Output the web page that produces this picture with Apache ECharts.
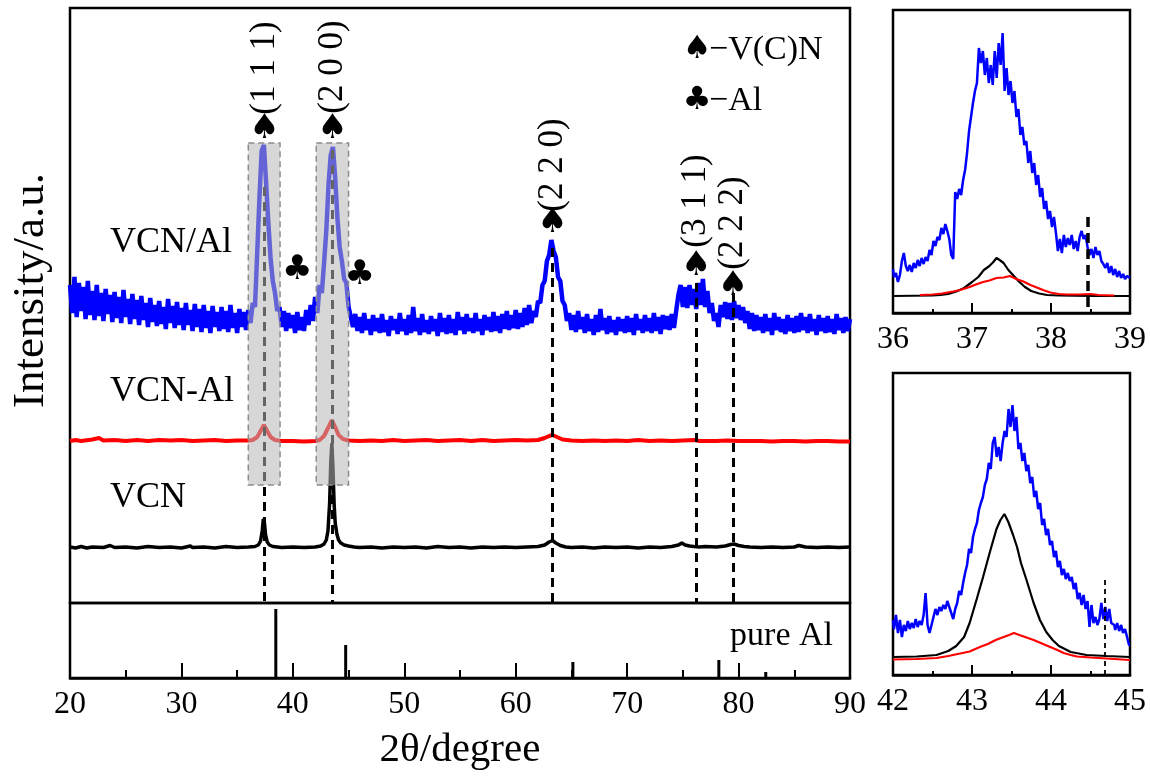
<!DOCTYPE html>
<html>
<head>
<meta charset="utf-8">
<script src="https://cdn.jsdelivr.net/npm/echarts@6/dist/echarts.min.js"></script>
<style>
html,body{margin:0;padding:0;background:#fff;}
#chart{width:1150px;height:778px;}
</style>
</head>
<body>
<div id="chart"></div>
<script>
// ---------- XRD data (intensity in arbitrary units) ----------
const twoThetaRange = [20, 90];

// VCN/Al composite, sampled on a regular 2θ grid
const vcnAlStart = 20, vcnAlStep = 0.2;
const vcnAlIntensity = [
  318,290,326,286,320,292,316,284,322,288,
  312,283,318,287,310,282,314,289,308,281,
  311,285,306,280,313,286,304,279,309,284,
  303,278,307,283,300,276,305,281,298,277,
  302,279,296,274,304,280,297,275,301,278,
  295,273,300,278,293,272,299,276,294,271,
  298,275,292,270,297,276,291,272,296,274,
  292,271,298,275,290,270,294,276,291,273,
  293,280,300,296,350,405,452,458,420,380,
  345,322,310,292,296,276,292,272,290,275,
  288,270,291,273,286,272,293,278,298,282,
  306,290,318,310,340,372,418,448,456,425,
  385,356,342,324,320,296,286,276,289,272,
  286,270,290,273,284,268,288,272,285,270,
  289,271,283,267,287,273,284,269,290,272,
  284,268,288,270,296,272,285,268,289,271,
  283,269,287,272,284,267,290,271,285,269,
  288,270,284,268,291,273,286,269,289,272,
  285,270,290,272,284,268,288,273,286,271,
  291,272,287,270,289,274,292,273,288,275,
  293,274,290,276,295,278,298,280,292,286,
  302,300,318,322,342,348,363,352,346,326,
  322,302,298,282,290,273,288,271,292,274,
  286,270,289,272,284,268,288,271,294,273,
  285,269,287,271,283,268,286,272,284,270,
  287,271,285,268,289,273,284,270,288,272,
  285,270,290,272,286,269,288,274,287,273,
  289,275,292,308,318,296,316,295,318,298,
  314,294,320,298,324,296,312,290,300,282,
  290,276,298,286,301,284,300,283,302,285,
  298,283,296,280,292,274,290,272,288,273,
  286,270,289,272,285,268,290,273,286,271,
  284,269,288,272,285,270,287,271,290,273,
  286,270,289,272,284,268,288,272,285,270,
  287,271,284,269,289,273,285,270,286,272,
  284
];

// VCN-Al mixture, [2θ, intensity]
const vcnMixPoints = [
  [20,162],[20.5,163],[21,162],[22,163.5],[22.6,165],[23,162.5],[24,163],[25,162],[26,163],[27,162],
  [28,163],[29,162.5],[30,163],[31,162],[32,162.5],[33,163],[34,162],[35,162.5],[36,162.5],[36.4,163],
  [36.8,166],[37.1,172],[37.4,178],[37.7,172],[38,166],[38.4,163],[39,162],[40,162],[41,161.5],[42,162],
  [42.4,163],[42.8,167],[43.2,176],[43.5,183],[43.8,176],[44.1,168],[44.5,164],[45,162.5],[46,162],[47,162.5],
  [48,162],[49,163],[50,162],[51,162.5],[52,163],[53,162],[54,162.5],[55,163],[56,162],[57,163],
  [58,162],[59,162.5],[60,163],[61,162.5],[62,163],[62.6,165],[63,167],[63.3,168],[63.7,166],[64.2,163.5],
  [65,162.5],[66,162],[67,162.5],[68,162],[69,162.5],[70,162],[71,163],[72,162],[73,162.5],[74,162],
  [75,162.5],[76,163],[76.5,162],[77,162],[78,162],[79,162.5],[80,162],[81,162],[82,162],[83,161.5],
  [84,162],[85,162],[86,161.5],[87,162],[88,162],[89,161.5],[90,161.5]
];

// VCN powder, [2θ, intensity]
const vcnPoints = [
  [20,56],[20.5,55],[21,56.5],[21.5,55],[22,56],[23,55.5],[23.6,57.5],[24,55.5],[25,56],[26,55],
  [27,56.5],[28,55.5],[29,56],[30,55],[30.8,57],[31,55.5],[32,56],[33,55],[34,56.5],[35,55.5],
  [36,56],[36.6,56.5],[36.9,58],[37.1,62],[37.25,72],[37.35,84],[37.45,80],[37.55,68],[37.7,61],[37.9,58],
  [38.2,56.5],[38.6,56],[39,55.5],[40,56],[41,55.5],[42,56],[42.5,57],[42.8,59],[43.0,63],[43.15,72],
  [43.3,100],[43.4,140],[43.5,160],[43.6,135],[43.7,100],[43.8,80],[43.95,69],[44.1,63],[44.3,60],[44.6,58],
  [45,57],[45.5,56],[46,55.5],[47,56],[48,55],[49,56],[50,55.5],[51,56],[52,55],[53,56.5],
  [54,55.5],[55,56],[56,55],[57,56],[58,55.5],[59,56],[60,55.5],[61,56],[62,56.5],[62.6,58],
  [63,61],[63.3,62.5],[63.6,60],[64,57.5],[64.5,56],[65,55.5],[66,56],[67,55],[68,56],[69,55.5],
  [70,56],[71,55],[72,56],[73,55.5],[74,56.5],[74.6,58],[74.9,60],[75.2,58],[75.6,57],[76,56.5],
  [76.5,56],[77,56.5],[78,56],[78.8,57],[79.3,58.5],[79.6,59],[80,57.5],[80.5,56.5],[81,56],[82,55.5],
  [83,56],[84,55.5],[85,56],[85.4,57.5],[86,56],[87,55.5],[88,56],[89,55.5],[90,56]
];

// pure Al reference pattern
const alStick2Theta = [38.47, 44.74, 65.13, 78.23, 82.44];
const alStickHeight = [69, 33, 16, 18, 6];

// V(C)N reflections
const peakHkl = ['(1 1 1)', '(2 0 0)', '(2 2 0)', '(3 1 1)', '(2 2 2)'];
const peak2Theta = [37.45, 43.55, 63.3, 76.2, 79.5];
const spadeLevel = [474, 474, 380, 337, 317];
const hklLevel = [535, 536, 438, 402, 380];
const guideTop = [416, 453, 355, 320, 310];

// Al reflections in the composite
const alMark2Theta = [40.4, 46.0];
const alMarkLevel = [333, 328];

// shaded windows shown enlarged on the right
const zoomWindows = [[36.0, 38.85], [42.1, 45.0]];
const zoomWindowLevel = [118, 460];

// ---------- (1 1 1) window, 36–39° ----------
const win1Range = [36, 39];
const win1Start = 36, win1Step = 0.025;
const win1VcnAl = [
  44,36,40,31,38,52,60,47,42,48,
  41,50,45,53,47,55,49,56,52,63,
  58,72,67,76,73,85,79,89,82,74,
  58,54,121,114,124,118,133,143,160,182,
  196,210,222,230,265,250,262,238,255,230,
  248,228,262,235,270,248,280,222,245,218,
  232,210,222,196,204,178,186,168,172,150,
  162,140,150,128,138,116,125,104,112,94,
  102,86,96,80,62,74,60,78,66,75,
  68,78,64,72,62,76,82,74,78,66,
  58,64,55,66,58,62,52,49,45,50,
  40,47,38,44,36,42,35,39,34,37,
  35
];
const win1Vcn = [
  [36,17],[36.5,17.5],[36.6,18],[36.7,19],[36.8,21.5],[36.9,25],[37.0,31],[37.08,36],[37.15,43],[37.22,47],
  [37.27,51],[37.31,55],[37.35,53],[37.4,50],[37.46,43],[37.53,37],[37.6,31],[37.67,26],[37.75,22],[37.85,19.5],
  [37.95,18],[38.1,17.5],[38.5,17],[39,17]
];
const win1VcnMix = [
  [36.34,18],[36.5,18.5],[36.62,19.5],[36.76,21.5],[36.85,23],[36.97,26],[37.05,28.5],[37.14,31],[37.22,32.5],[37.31,35],
  [37.4,35.5],[37.48,37],[37.56,34],[37.65,31.5],[37.74,28],[37.82,25.5],[37.9,23],[37.99,20.5],[38.1,19],[38.2,18.5],
  [38.35,18.5],[38.5,19],[38.6,18],[38.8,17.5]
];
const win1AlLine = [38.47, 0, 96];

// ---------- (2 0 0) window, 42–45° ----------
const win2Range = [42, 45];
const win2Start = 42, win2Step = 0.025;
const win2VcnAl = [
  55,46,60,42,55,38,50,44,54,46,
  52,47,56,48,54,50,60,82,50,42,
  50,58,66,60,68,64,70,66,74,68,
  62,56,66,72,84,80,92,102,110,126,
  122,138,146,152,165,172,178,190,196,212,
  206,232,238,218,228,214,232,244,238,266,
  248,270,244,258,226,232,214,222,204,210,
  192,198,178,184,166,172,150,156,140,146,
  130,134,118,124,108,114,100,106,96,102,
  94,98,86,92,76,82,70,80,66,74,
  48,70,52,58,50,56,72,56,68,54,
  66,52,50,45,52,44,50,42,46,38,
  30
];
const win2Vcn = [
  [42,18],[42.3,18.5],[42.55,20],[42.7,24],[42.8,29],[42.9,38],[42.97,52],[43.06,76],[43.14,98],[43.23,124],
  [43.31,146],[43.36,155],[43.41,161],[43.46,153],[43.52,140],[43.57,128],[43.62,112],[43.69,95],[43.78,72],[43.86,55],
  [43.94,43],[44.02,35],[44.1,29],[44.25,23],[44.45,20],[44.7,19],[45,18]
];
const win2VcnMix = [
  [42,15.5],[42.3,16],[42.55,17],[42.7,19],[42.85,21.5],[42.97,23.5],[43.1,28],[43.2,31],[43.3,35],[43.4,38],
  [43.47,40],[43.53,42],[43.6,40],[43.69,37.5],[43.78,35],[43.87,32],[43.99,28],[44.08,25],[44.16,22],[44.25,20],
  [44.33,18.5],[44.5,17.5],[44.7,16.5],[45,15]
];
const win2AlLine = [44.68, 0, 95];

// ---------- styling ----------
const SERIF = "'Liberation Serif','Times New Roman',Times,serif";
const SYM = "'DejaVu Sans',sans-serif";
const BLUE = '#0000ff', RED = '#ff0000', BLACK = '#000000';

const onGrid = (start, step, values) => values.map((v, i) => [+(start + i * step).toFixed(3), v]);

function frameGrid(left, top, width, height) {
  return { left, top, width, height, show: true, borderColor: BLACK, borderWidth: 2.5,
           backgroundColor: 'transparent', containLabel: false, outerBoundsMode: 'none' };
}

function tickedAxis(gridIndex, range, fontSize, majorLen, minorLen, extra) {
  return Object.assign({
    gridIndex, type: 'value', min: range[0], max: range[1], interval: 10,
    axisLine: { show: true, lineStyle: { color: BLACK, width: 2.5 } },
    axisTick: { show: true, inside: true, length: majorLen, lineStyle: { color: BLACK, width: 2 } },
    minorTick: { show: true, splitNumber: 2, length: minorLen, lineStyle: { color: BLACK, width: 2 } },
    axisLabel: { color: BLACK, fontFamily: SERIF, fontSize, margin: 11 },
    splitLine: { show: false }, minorSplitLine: { show: false }
  }, extra || {});
}

const hiddenY = (gridIndex, max, extra) => Object.assign({
  gridIndex, type: 'value', min: 0, max,
  axisLine: { show: false }, axisTick: { show: false }, axisLabel: { show: false },
  splitLine: { show: false }
}, extra || {});

const lineSeries = (name, data, color, width, xi, extra) => Object.assign({
  name, type: 'line', data, xAxisIndex: xi, yAxisIndex: xi,
  symbol: 'none', sampling: null, animation: false, silent: true,
  lineStyle: { color, width }, z: 2
}, extra || {});

const annotationPoints = [];
peak2Theta.forEach((x, i) => {
  annotationPoints.push({ coord: [x, spadeLevel[i]],
    label: { formatter: '\u2660', fontFamily: SYM, fontSize: 34, color: BLACK } });
  annotationPoints.push({ coord: [x, hklLevel[i]],
    label: { formatter: peakHkl[i], rotate: 90, fontFamily: SERIF, fontSize: 35, color: BLACK } });
});
alMark2Theta.forEach((x, i) => {
  annotationPoints.push({ coord: [x, alMarkLevel[i]],
    label: { formatter: '\u2663', fontFamily: SYM, fontSize: 34, color: BLACK } });
});

const option = {
  backgroundColor: '#ffffff',
  animation: false,
  grid: [
    frameGrid(70, 8, 780, 595),
    frameGrid(70, 603, 780, 75),
    frameGrid(893, 10, 237, 303),
    frameGrid(893, 373, 237, 302)
  ],
  xAxis: [
    { gridIndex: 0, type: 'value', min: twoThetaRange[0], max: twoThetaRange[1], show: false },
    tickedAxis(1, twoThetaRange, 32, 15, 8, {
      name: '2\u03b8/degree', nameLocation: 'middle', nameGap: 52,
      nameTextStyle: { fontFamily: SERIF, fontSize: 41, color: BLACK }
    }),
    tickedAxis(2, win1Range, 32, 10, 4, { interval: 1 }),
    tickedAxis(3, win2Range, 32, 10, 4, { interval: 1 })
  ],
  yAxis: [
    hiddenY(0, 595, {
      name: 'Intensity/a.u.', nameLocation: 'middle', nameGap: 16, nameRotate: 90,
      nameTextStyle: { fontFamily: SERIF, fontSize: 45, color: BLACK, padding: [0, 0, 0, 30] }
    }),
    hiddenY(1, 75),
    hiddenY(2, 303),
    hiddenY(3, 302)
  ],
  series: [
    lineSeries('VCN/Al', onGrid(vcnAlStart, vcnAlStep, vcnAlIntensity), BLUE, 4.5, 0),
    lineSeries('VCN-Al', vcnMixPoints, RED, 4, 0),
    lineSeries('VCN', vcnPoints, BLACK, 3.5, 0),
    {
      name: 'guides', type: 'line', data: [], xAxisIndex: 0, yAxisIndex: 0, silent: true,
      markLine: {
        silent: true, symbol: ['none', 'none'], animation: false, z: 5,
        label: { show: false },
        lineStyle: { color: BLACK, width: 3, type: [9, 6] },
        data: peak2Theta.map((x, i) => [{ coord: [x, guideTop[i]] }, { coord: [x, 0] }])
      }
    },
    {
      name: 'windows', type: 'line', data: [], xAxisIndex: 0, yAxisIndex: 0, silent: true,
      markArea: {
        silent: true, animation: false, z: 10,
        itemStyle: { color: 'rgba(182,182,182,0.55)', borderColor: '#8c8c8c', borderWidth: 1.5, borderType: [6, 4] },
        data: zoomWindows.map(w => [{ coord: [w[0], zoomWindowLevel[1]] }, { coord: [w[1], zoomWindowLevel[0]] }])
      }
    },
    {
      name: 'reflections', type: 'line', data: [], xAxisIndex: 0, yAxisIndex: 0, silent: true,
      markPoint: {
        silent: true, animation: false, z: 12,
        symbol: 'rect', symbolSize: 1, itemStyle: { color: 'rgba(0,0,0,0)' },
        label: { show: true, position: 'inside' },
        data: annotationPoints
      }
    },
    {
      name: 'pure Al', type: 'bar', xAxisIndex: 1, yAxisIndex: 1, silent: true, animation: false,
      barWidth: 3, itemStyle: { color: BLACK },
      data: alStick2Theta.map((x, i) => [x, alStickHeight[i]])
    },
    lineSeries('win1 VCN/Al', onGrid(win1Start, win1Step, win1VcnAl), BLUE, 2.5, 2, { step: 'middle' }),
    lineSeries('win1 VCN', win1Vcn, BLACK, 2.2, 2),
    lineSeries('win1 VCN-Al', win1VcnMix, RED, 2.2, 2),
    {
      name: 'win1 Al', type: 'line', data: [], xAxisIndex: 2, yAxisIndex: 2, silent: true,
      markLine: {
        silent: true, symbol: ['none', 'none'], animation: false, label: { show: false },
        lineStyle: { color: BLACK, width: 3.5, type: [10, 6] },
        data: [[{ coord: [win1AlLine[0], win1AlLine[2]] }, { coord: [win1AlLine[0], win1AlLine[1]] }]]
      }
    },
    lineSeries('win2 VCN/Al', onGrid(win2Start, win2Step, win2VcnAl), BLUE, 2.5, 3, { step: 'middle' }),
    lineSeries('win2 VCN', win2Vcn, BLACK, 2.2, 3),
    lineSeries('win2 VCN-Al', win2VcnMix, RED, 2.2, 3),
    {
      name: 'win2 Al', type: 'line', data: [], xAxisIndex: 3, yAxisIndex: 3, silent: true,
      markLine: {
        silent: true, symbol: ['none', 'none'], animation: false, label: { show: false },
        lineStyle: { color: BLACK, width: 1.8, type: [5, 4] },
        data: [[{ coord: [win2AlLine[0], win2AlLine[2]] }, { coord: [win2AlLine[0], win2AlLine[1]] }]]
      }
    }
  ],
  graphic: [
    { type: 'text', x: 110, y: 243, style: { text: 'VCN/Al', font: '36px ' + SERIF, fill: BLACK, align: 'left', verticalAlign: 'middle' } },
    { type: 'text', x: 110, y: 392, style: { text: 'VCN-Al', font: '36px ' + SERIF, fill: BLACK, align: 'left', verticalAlign: 'middle' } },
    { type: 'text', x: 110, y: 498, style: { text: 'VCN', font: '36px ' + SERIF, fill: BLACK, align: 'left', verticalAlign: 'middle' } },
    { type: 'text', x: 833, y: 636, style: { text: 'pure Al', font: '34px ' + SERIF, fill: BLACK, align: 'right', verticalAlign: 'middle' } },
    { type: 'text', x: 697, y: 50, style: { text: '\u2660', font: '32px ' + SYM, fill: BLACK, align: 'center', verticalAlign: 'middle' } },
    { type: 'text', x: 709, y: 50, style: { text: '\u2212V(C)N', font: '34px ' + SERIF, fill: BLACK, align: 'left', verticalAlign: 'middle' } },
    { type: 'text', x: 697, y: 101, style: { text: '\u2663', font: '32px ' + SYM, fill: BLACK, align: 'center', verticalAlign: 'middle' } },
    { type: 'text', x: 709, y: 101, style: { text: '\u2212Al', font: '34px ' + SERIF, fill: BLACK, align: 'left', verticalAlign: 'middle' } }
  ]
};

const chart = echarts.init(document.getElementById('chart'), null, { renderer: 'canvas' });
chart.setOption(option);
</script>
</body>
</html>
